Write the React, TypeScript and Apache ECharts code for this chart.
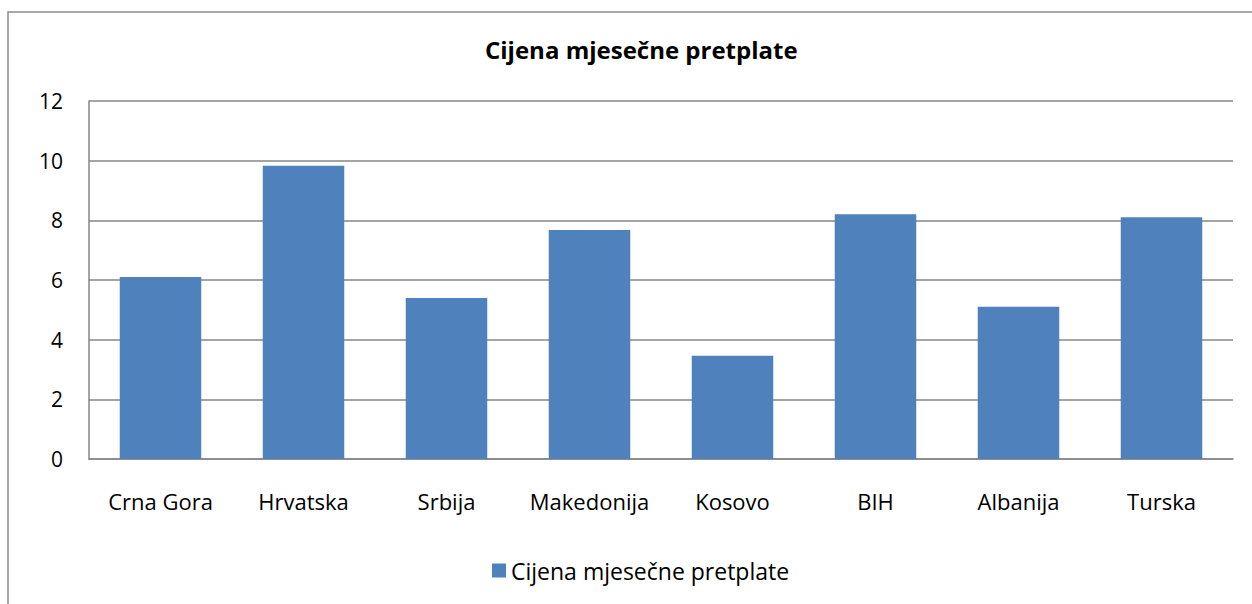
import React, { useEffect, useRef } from "react";
import * as echarts from "echarts";

const categories = ["Crna Gora", "Hrvatska", "Srbija", "Makedonija", "Kosovo", "BIH", "Albanija", "Turska"];
const values = [6.1, 9.83, 5.4, 7.68, 3.46, 8.2, 5.1, 8.1];
const seriesName = "Cijena mjesečne pretplate";
const title = "Cijena mjesečne pretplate";

const FONT = "'Open Sans', sans-serif";

export default function App() {
  const ref = useRef<HTMLDivElement>(null);
  useEffect(() => {
    document.body.style.margin = "0";
    const chart = echarts.init(ref.current!, null, { renderer: "svg" });
    chart.setOption({
      animation: false,
      backgroundColor: "#fff",
      textStyle: { fontFamily: FONT },
      title: {
        text: title,
        left: 480,
        top: 32,
        textStyle: { fontFamily: FONT, fontSize: 24, fontWeight: "bold", color: "#000" },
      },
      legend: {
        data: [seriesName],
        bottom: 17,
        left: 487,
        icon: "rect",
        itemWidth: 14,
        itemHeight: 14,
        itemGap: 6,
        textStyle: { fontFamily: FONT, fontSize: 23, color: "#000" },
      },
      graphic: [
        {
          type: "rect",
          shape: { x: 8, y: 12, width: 1400, height: 800 },
          style: { fill: "none", stroke: "#8a8a8a", lineWidth: 1.5 },
          silent: true,
        },
      ],
      grid: { left: 89, right: 19, top: 101, bottom: 145, containLabel: false },
      xAxis: {
        type: "category",
        data: categories,
        axisLine: { lineStyle: { color: "#868686", width: 1.5 } },
        axisTick: { show: false },
        axisLabel: { color: "#000", fontSize: 22, fontFamily: FONT, margin: 31, interval: 0 },
      },
      yAxis: {
        type: "value",
        min: 0,
        max: 12,
        interval: 2,
        axisLine: { show: true, lineStyle: { color: "#868686", width: 1.5 } },
        axisTick: { show: false },
        splitLine: { lineStyle: { color: "#868686", width: 1.5 } },
        axisLabel: { color: "#000", fontSize: 21, fontFamily: FONT, margin: 26 },
      },
      series: [
        {
          name: seriesName,
          type: "bar",
          data: values,
          barCategoryGap: "43%",
          itemStyle: { color: "#4F81BD" },
        },
      ],
    });
    return () => chart.dispose();
  }, []);
  return <div ref={ref} style={{ width: 1252, height: 604 }} />;
}
